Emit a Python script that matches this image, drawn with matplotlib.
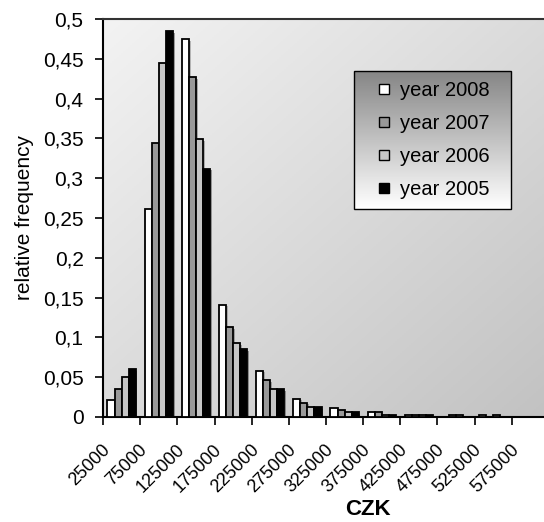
import numpy as np
import matplotlib.pyplot as plt
import matplotlib.transforms as mtransforms
import matplotlib.patheffects as pe
from matplotlib.lines import Line2D
from matplotlib.patches import Rectangle
from matplotlib.colors import LinearSegmentedColormap

plt.rcParams['font.family'] = ['Liberation Sans', 'DejaVu Sans']
plt.rcParams['font.size'] = 15

# data
categories = ['25000', '75000', '125000', '175000', '225000', '275000',
              '325000', '375000', '425000', '475000', '525000', '575000']
y2008 = [0.021, 0.261, 0.475, 0.141, 0.058, 0.023, 0.011, 0.006, 0.003, 0.0, 0.002, 0.0]
y2007 = [0.035, 0.344, 0.427, 0.113, 0.046, 0.018, 0.0085, 0.006, 0.003, 0.002, 0.0, 0.0]
y2006 = [0.050, 0.445, 0.349, 0.093, 0.035, 0.012, 0.006, 0.003, 0.003, 0.002, 0.002, 0.0]
y2005 = [0.060, 0.485, 0.312, 0.085, 0.035, 0.012, 0.006, 0.003, 0.002, 0.0, 0.0, 0.0]
series_names = ['year 2008', 'year 2007', 'year 2006', 'year 2005']
yticks = [0, 0.05, 0.1, 0.15, 0.2, 0.25, 0.3, 0.35, 0.4, 0.45, 0.5]
ytick_labels = ['0', '0,05', '0,1', '0,15', '0,2', '0,25', '0,3', '0,35', '0,4', '0,45', '0,5']

colors = ['white', '#999999', '#c6c6c6', 'black']
series = [y2008, y2007, y2006, y2005]

fig = plt.figure(figsize=(5.44, 5.22), dpi=100)
ax = fig.add_axes([103/544, 105/522, 446/544, 398/522])

# diagonal gray gradient behind the plot area
gx, gy = np.meshgrid(np.linspace(0, 1, 200), np.linspace(0, 1, 200))
grad = (gx + gy) / 2
bg_cmap = LinearSegmentedColormap.from_list('bg', ['#f3f3f3', '#c2c2c2'])
ax.imshow(grad, cmap=bg_cmap, extent=[0, 1, 0, 1], transform=ax.transAxes,
          aspect='auto', zorder=0, origin='upper')

x = np.arange(len(categories))
w = 0.19
shadow = [pe.SimplePatchShadow(offset=(1.2, -1.2), alpha=0.35), pe.Normal()]
for i, (vals, col) in enumerate(zip(series, colors)):
    ax.bar(x + (i - 1.5) * w, vals, width=w, color=col, edgecolor='black',
           linewidth=1.3, zorder=3, path_effects=shadow)

ax.set_xlim(-0.5, len(categories) - 0.5)
ax.set_ylim(0, 0.5)

# ticks between categories, labels at the centres
ax.set_xticks(np.arange(-0.5, len(categories), 1))
ax.set_xticklabels([])
ax.tick_params(axis='x', which='major', direction='out', length=6, width=1.2)
ax.set_xticks(x, categories, minor=True)
ax.tick_params(axis='x', which='minor', length=0, pad=22, labelsize=13)
off = mtransforms.ScaledTranslation(-14/100, 0, fig.dpi_scale_trans)
for lbl in ax.get_xticklabels(minor=True):
    lbl.set_rotation(45)
    lbl.set_ha('right')
    lbl.set_va('center')
    lbl.set_rotation_mode('anchor')
    lbl.set_transform(lbl.get_transform() + off)

ax.set_yticks(yticks, ytick_labels)
ax.tick_params(axis='y', direction='out', length=6, width=1.2, pad=8)

for s in ['left', 'bottom']:
    ax.spines[s].set_linewidth(1.5)
ax.spines['top'].set_linewidth(1.5)
ax.spines['top'].set_color('#333333')

ax.set_xlabel('CZK', fontweight='bold', fontsize=16)
ax.xaxis.set_label_coords((367.5-103)/446, -(499-417)/398)
ax.set_ylabel('relative frequency', fontsize=15)
ax.yaxis.set_label_coords((34-103)/446, 0.5)

# legend box with vertical gradient
lx0, lx1 = (354-103)/446, (511-103)/446
ly0, ly1 = (417-209)/398, (417-71)/398
leg_cmap = LinearSegmentedColormap.from_list('leg', ['#ffffff', '#868686'])
ax.imshow(np.linspace(0, 1, 100).reshape(-1, 1), cmap=leg_cmap,
          extent=[lx0, lx1, ly0, ly1], transform=ax.transAxes,
          aspect='auto', zorder=5, origin='lower')
ax.add_patch(Rectangle((lx0, ly0), lx1 - lx0, ly1 - ly0, transform=ax.transAxes,
                       fill=False, edgecolor='black', linewidth=1, zorder=6))
ax.set_xlim(-0.5, len(categories) - 0.5)
ax.set_ylim(0, 0.5)

handles = [Line2D([], [], linestyle='none', marker='s', markersize=7.5,
                  markerfacecolor=c, markeredgecolor='black', markeredgewidth=1)
           for c in colors]
leg = ax.legend(handles, series_names, loc='center',
                bbox_to_anchor=((lx0 + lx1) / 2, (ly0 + ly1) / 2),
                frameon=False, fontsize=14.5, handlelength=0.8,
                handletextpad=0.4, labelspacing=0.7)
leg.set_zorder(7)

fig.savefig('out.png', dpi=100)
